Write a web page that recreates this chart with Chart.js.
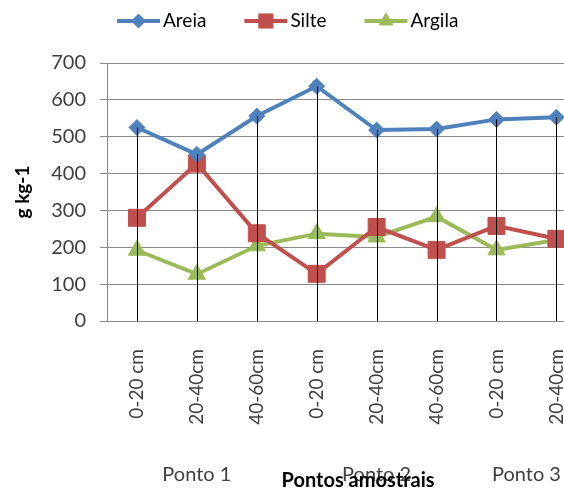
<!DOCTYPE html>
<html lang="pt">
<head>
<meta charset="UTF-8">
<title>Pontos amostrais</title>
<style>
    html, body { margin: 0; padding: 0; background: #ffffff; overflow: hidden; }
    #wrap { position: absolute; left: 0; top: 0; width: 600px; height: 488px; }
</style>
<script src="https://cdn.jsdelivr.net/npm/chart.js"></script>
</head>
<body>
<div id="wrap"><canvas id="chart"></canvas></div>
<script>
// profundidades (eixo x) e pontos de amostragem
const categories = ['0-20 cm', '20-40cm', '40-60cm', '0-20 cm', '20-40cm', '40-60cm', '0-20 cm', '20-40cm'];
const groups = ['Ponto 1', 'Ponto 2', 'Ponto 3'];
const groupSizes = [3, 3, 2];

// g kg-1
const areia = [525, 452, 556, 637, 518, 521, 547, 553];
const silte = [280, 427, 238, 128, 255, 193, 258, 223];
const argila = [192, 127, 204, 237, 228, 283, 193, 220];

const yTicks = [0, 100, 200, 300, 400, 500, 600, 700];

const FONT = 'Lato, "Open Sans", sans-serif';
const GRID = '#8a8a8a';

const extras = {
    id: 'extras',
    afterDatasetsDraw(chart) {
        // drop lines from the highest point down to the axis
        const ctx = chart.ctx;
        const x = chart.scales.x, y = chart.scales.y;
        ctx.save();
        ctx.strokeStyle = '#000000';
        ctx.lineWidth = 1;
        categories.forEach((c, i) => {
            const top = Math.max(...chart.data.datasets.map(d => d.data[i]));
            const px = Math.round(x.getPixelForValue(i)) + 0.5;
            ctx.beginPath();
            ctx.moveTo(px, y.getPixelForValue(top));
            ctx.lineTo(px, y.getPixelForValue(0));
            ctx.stroke();
        });
        ctx.restore();
    },
    afterDraw(chart) {
        const ctx = chart.ctx;
        const x = chart.scales.x;
        ctx.save();

        // second level of the category axis
        ctx.fillStyle = '#404040';
        ctx.font = '20px ' + FONT;
        ctx.textAlign = 'center';
        ctx.textBaseline = 'middle';
        let start = 0;
        groups.forEach((g, k) => {
            const end = start + groupSizes[k] - 1;
            const cx = (x.getPixelForValue(start) + x.getPixelForValue(end)) / 2;
            ctx.fillText(g, cx, 475);
            start = end + 1;
        });

        // axis title
        ctx.fillStyle = '#000000';
        ctx.font = 'bold 20px ' + FONT;
        ctx.fillText('Pontos amostrais', 358, 481);

        // legend: line with marker, excel style
        ctx.font = '19px ' + FONT;
        ctx.textAlign = 'left';
        let lx = 117;
        chart.data.datasets.forEach(ds => {
            ctx.save();
            ctx.strokeStyle = ds.borderColor;
            ctx.fillStyle = ds.backgroundColor;
            ctx.lineWidth = ds.borderWidth;
            ctx.beginPath();
            ctx.moveTo(lx, 21);
            ctx.lineTo(lx + 43, 21);
            ctx.stroke();
            ctx.lineWidth = 1;
            Chart.helpers.drawPoint(ctx, { pointStyle: ds.pointStyle, radius: ds.legendRadius, rotation: 0, borderWidth: 1 }, lx + 21.5, 21);
            ctx.restore();
            ctx.fillStyle = '#000000';
            ctx.fillText(ds.label, lx + 46, 21);
            lx += 46 + ctx.measureText(ds.label).width + 38;
        });
        ctx.restore();
    }
};

new Chart(document.getElementById('chart'), {
    type: 'line',
    data: {
        labels: categories,
        datasets: [
            {
                label: 'Areia', data: areia,
                borderColor: '#4F81BD', backgroundColor: '#4F81BD',
                borderWidth: 4, pointStyle: 'rectRot', pointRadius: 8, legendRadius: 7,
                pointBorderWidth: 1, tension: 0
            },
            {
                label: 'Silte', data: silte,
                borderColor: '#C0504D', backgroundColor: '#C0504D',
                borderWidth: 4, pointStyle: 'rect', pointRadius: 12, legendRadius: 10,
                pointBorderWidth: 1, tension: 0
            },
            {
                label: 'Argila', data: argila,
                borderColor: '#9BBB59', backgroundColor: '#9BBB59',
                borderWidth: 4, pointStyle: 'triangle', pointRadius: 10, legendRadius: 8,
                pointBorderWidth: 1, tension: 0
            }
        ]
    },
    options: {
        responsive: true,
        maintainAspectRatio: false,
        animation: false,
        layout: { padding: { top: 63, right: 13, left: 0, bottom: 0 } },
        plugins: {
            legend: { display: false },
            tooltip: { enabled: false }
        },
        scales: {
            x: {
                offset: true,
                grid: { display: false },
                border: { display: true, color: GRID, width: 1 },
                ticks: {
                    color: '#404040',
                    font: { family: FONT, size: 19 },
                    minRotation: 90, maxRotation: 90,
                    padding: 20,
                    autoSkip: false
                },
                afterFit(scale) { scale.height = 167; }
            },
            y: {
                min: 0, max: 700,
                afterBuildTicks(scale) { scale.ticks = yTicks.map(v => ({ value: v })); },
                grid: { color: GRID, lineWidth: 1, tickLength: 7 },
                border: { color: GRID, width: 1 },
                ticks: {
                    color: '#404040',
                    font: { family: FONT, size: 20 },
                    padding: 14
                },
                title: {
                    display: true,
                    text: 'g kg-1',
                    color: '#000000',
                    font: { family: FONT, size: 19, weight: 'bold' },
                    padding: { top: 11, bottom: 0 }
                },
                afterFit(scale) { scale.width = 107; }
            }
        }
    },
    plugins: [extras]
});
</script>
</body>
</html>
